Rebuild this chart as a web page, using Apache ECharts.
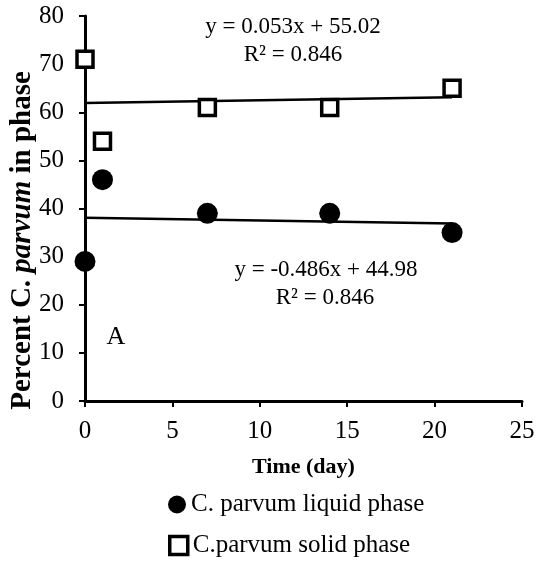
<!DOCTYPE html>
<html>
<head>
<meta charset="utf-8">
<script src="https://cdn.jsdelivr.net/npm/echarts@6/dist/echarts.min.js"></script>
<style>
  html, body { margin: 0; padding: 0; background: #fff; }
  #chart { width: 537px; height: 563px; }
</style>
</head>
<body>
<div id="chart"></div>
<script>
// Sampling days
const days = [0, 1, 7, 14, 21];
// Percent of C. parvum found in each phase
const liquidPhase = [29, 46, 39, 39, 35];
const solidPhase = [71, 54, 61, 61, 65];
// Linear trendline end points (day, percent)
const liquidTrend = [[0, 38.1], [21, 36.9]];
const solidTrend = [[0, 61.9], [21, 63.1]];
// Axis tick settings
const xTicks = { min: 0, max: 25, interval: 5 };
const yTicks = { min: 0, max: 80, interval: 10 };
// Trendline annotation text
const solidEquation = ['y = 0.053x + 55.02', 'R\u00b2 = 0.846'];
const liquidEquation = ['y = -0.486x + 44.98', 'R\u00b2 = 0.846'];
const panelLetter = 'A';
const seriesNames = ['C. parvum liquid phase', 'C.parvum solid phase'];

const FONT = '"Liberation Serif", "Times New Roman", serif';

const pairs = (xs, ys) => xs.map((x, i) => [x, ys[i]]);

const axisCommon = {
  axisLine: { show: true, onZero: false, lineStyle: { color: '#000', width: 3 } },
  axisTick: { show: true, inside: false, length: 6, lineStyle: { color: '#000', width: 2 } },
  splitLine: { show: false },
  axisLabel: { color: '#000', fontFamily: FONT, fontSize: 25 }
};

const legendCommon = {
  orient: 'horizontal',
  left: 163,
  itemWidth: 18,
  itemHeight: 18,
  textStyle: { color: '#000', fontFamily: FONT, fontSize: 25 }
};

const chart = echarts.init(document.getElementById('chart'), null, { renderer: 'canvas' });

chart.setOption({
  animation: false,
  backgroundColor: '#fff',
  grid: { left: 85, right: 15, top: 16, bottom: 162, containLabel: false, outerBoundsMode: 'none' },
  xAxis: Object.assign({}, axisCommon, {
    type: 'value',
    min: xTicks.min, max: xTicks.max, interval: xTicks.interval,
    name: 'Time (day)',
    nameLocation: 'middle',
    nameGap: 55,
    nameMoveOverlap: false,
    nameTextStyle: { color: '#000', fontFamily: FONT, fontSize: 22, fontWeight: 'bold' },
    axisLabel: Object.assign({}, axisCommon.axisLabel, { margin: 18 })
  }),
  yAxis: Object.assign({}, axisCommon, {
    type: 'value',
    min: yTicks.min, max: yTicks.max, interval: yTicks.interval,
    name: 'Percent C. {i|parvum} in phase',
    nameLocation: 'middle',
    nameGap: 48,
    nameMoveOverlap: false,
    nameTextStyle: {
      color: '#000', fontFamily: FONT, fontSize: 29, fontWeight: 'bold',
      padding: [0, 64, 0, 0],
      rich: { i: { fontFamily: FONT, fontSize: 29, fontWeight: 'bold', fontStyle: 'italic', color: '#000' } }
    },
    axisLabel: Object.assign({}, axisCommon.axisLabel, { margin: 21 })
  }),
  legend: [
    Object.assign({}, legendCommon, {
      top: 487,
      data: [{ name: seriesNames[0], icon: 'circle', itemStyle: { color: '#000', borderWidth: 0 } }]
    }),
    Object.assign({}, legendCommon, {
      top: 528,
      data: [{ name: seriesNames[1], icon: 'rect', itemStyle: { color: '#fff', borderColor: '#000', borderWidth: 3.5 } }]
    })
  ],
  series: [
    {
      type: 'line', data: solidTrend, symbol: 'none', silent: true, z: 1,
      lineStyle: { color: '#000', width: 2.5 }
    },
    {
      type: 'line', data: liquidTrend, symbol: 'none', silent: true, z: 1,
      lineStyle: { color: '#000', width: 2.5 }
    },
    {
      name: seriesNames[0], type: 'scatter', z: 3,
      data: pairs(days, liquidPhase),
      symbol: 'circle', symbolSize: 21,
      itemStyle: { color: '#000', opacity: 1 }
    },
    {
      name: seriesNames[1], type: 'scatter', z: 3,
      data: pairs(days, solidPhase),
      symbol: 'rect', symbolSize: 16,
      itemStyle: { color: '#fff', borderColor: '#000', borderWidth: 3.5, opacity: 1 }
    }
  ],
  graphic: [
    {
      type: 'text', x: 293, y: 27,
      style: { text: solidEquation[0], font: '23px ' + FONT, fill: '#000', align: 'center', verticalAlign: 'middle' }
    },
    {
      type: 'text', x: 293, y: 55,
      style: { text: solidEquation[1], font: '23px ' + FONT, fill: '#000', align: 'center', verticalAlign: 'middle' }
    },
    {
      type: 'text', x: 326, y: 270,
      style: { text: liquidEquation[0], font: '23px ' + FONT, fill: '#000', align: 'center', verticalAlign: 'middle' }
    },
    {
      type: 'text', x: 325, y: 298,
      style: { text: liquidEquation[1], font: '23px ' + FONT, fill: '#000', align: 'center', verticalAlign: 'middle' }
    },
    {
      type: 'text', x: 116, y: 337,
      style: { text: panelLetter, font: '26px ' + FONT, fill: '#000', align: 'center', verticalAlign: 'middle' }
    }
  ]
});
</script>
</body>
</html>
